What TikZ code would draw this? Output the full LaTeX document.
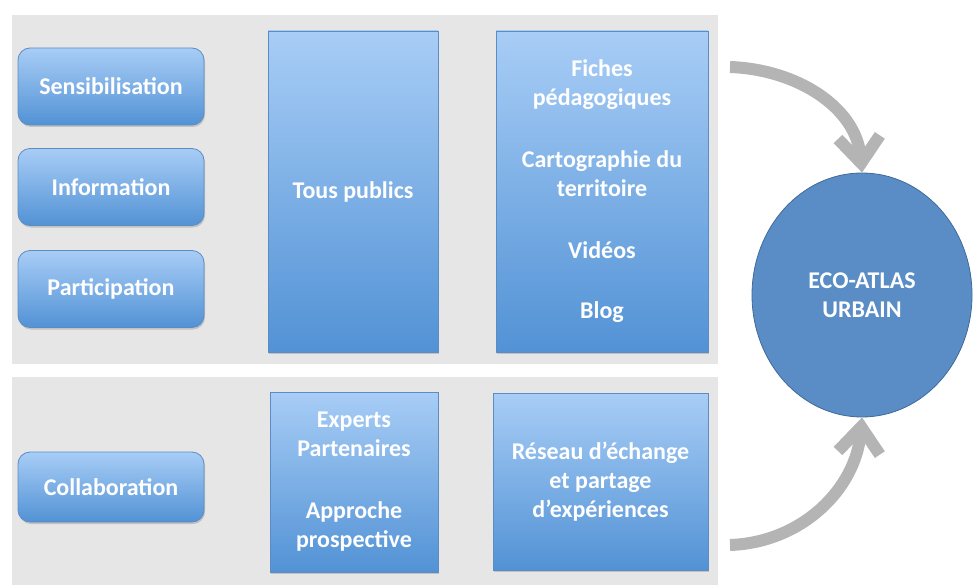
\documentclass[tikz,border=0pt]{standalone}
\usepackage{fontspec}
\setmainfont{Carlito}
\usetikzlibrary{shapes.geometric,shadows,arrows.meta}
\definecolor{panelgray}{HTML}{E6E6E6}
\definecolor{boxtop}{HTML}{A8CDF6}
\definecolor{boxbot}{HTML}{5292D5}
\definecolor{boxline}{HTML}{5B8CC4}
\definecolor{circfill}{HTML}{5A8DC5}
\definecolor{circline}{HTML}{3F6A99}
\definecolor{arrowgray}{HTML}{B4B4B4}
\tikzset{
  panel/.style={fill=panelgray, draw=none, minimum width=706pt, inner sep=0pt},
  lbl/.style={font=\bfseries\fontsize{24}{29}\selectfont, text=white, align=center},
  roundbox/.style={lbl, rounded corners=12pt, top color=boxtop, bottom color=boxbot,
    draw=boxline, line width=0.8pt, minimum width=186pt, minimum height=77pt, inner sep=0pt,
    drop shadow={opacity=0.35, shadow xshift=1pt, shadow yshift=-2pt}},
  rectbox/.style={lbl, top color=boxtop, bottom color=boxbot,
    draw=boxline, line width=0.8pt, inner sep=0pt,
    drop shadow={opacity=0.35, shadow xshift=1pt, shadow yshift=-2pt}},
  bigarrow/.style={draw=arrowgray, line width=12pt,
    -{Straight Barb[length=26pt, width=42pt, line width=12pt]}}
}
\begin{document}
\begin{tikzpicture}[x=1pt,y=-1pt]
\useasboundingbox (0,0) rectangle (973,588);
% panels
\node[panel, minimum height=349pt] (ptop) at (365,189.5) {};
\node[panel, minimum height=208pt] (pbot) at (365,481) {};
% left boxes
\node[roundbox] (sens) at (111,86.5) {Sensibilisation};
\node[roundbox] (info) at (111,187) {Information};
\node[roundbox] (part) at (111,289) {Participation};
\node[roundbox, minimum height=70pt] (coll) at (111,487) {Collaboration};
% middle boxes
\node[rectbox, minimum width=170pt, minimum height=321pt] (tous) at (353,191.5) {Tous publics};
\node[rectbox, minimum width=168pt, minimum height=180pt] (expe) at (354,482)
  {Experts\\Partenaires\\[33pt]Approche\\prospective};
% right boxes
\node[rectbox, minimum width=212pt, minimum height=321pt] (fich) at (602,191.5)
  {Fiches\\pédagogiques\\[33pt]Cartographie du\\territoire\\[33pt]Vidéos\\[31pt]Blog};
\node[rectbox, minimum width=215pt, minimum height=177pt] (rese) at (600.5,481.5)
  {Réseau d’échange\\et partage\\d’expériences};
% circle
\node[ellipse, lbl, fill=circfill, draw=circline, line width=0.8pt,
  minimum width=220pt, minimum height=244pt, inner sep=0pt] (eco) at (862,295)
  {ECO-ATLAS\\URBAIN};
% arrows
\coordinate (s1) at (730,67);
\coordinate (s2) at (730,545);
\draw[bigarrow] (s1) to[out=-2,in=95] (eco.north);
\draw[bigarrow] (s2) to[out=2,in=-95] (eco.south);
\end{tikzpicture}
\end{document}
